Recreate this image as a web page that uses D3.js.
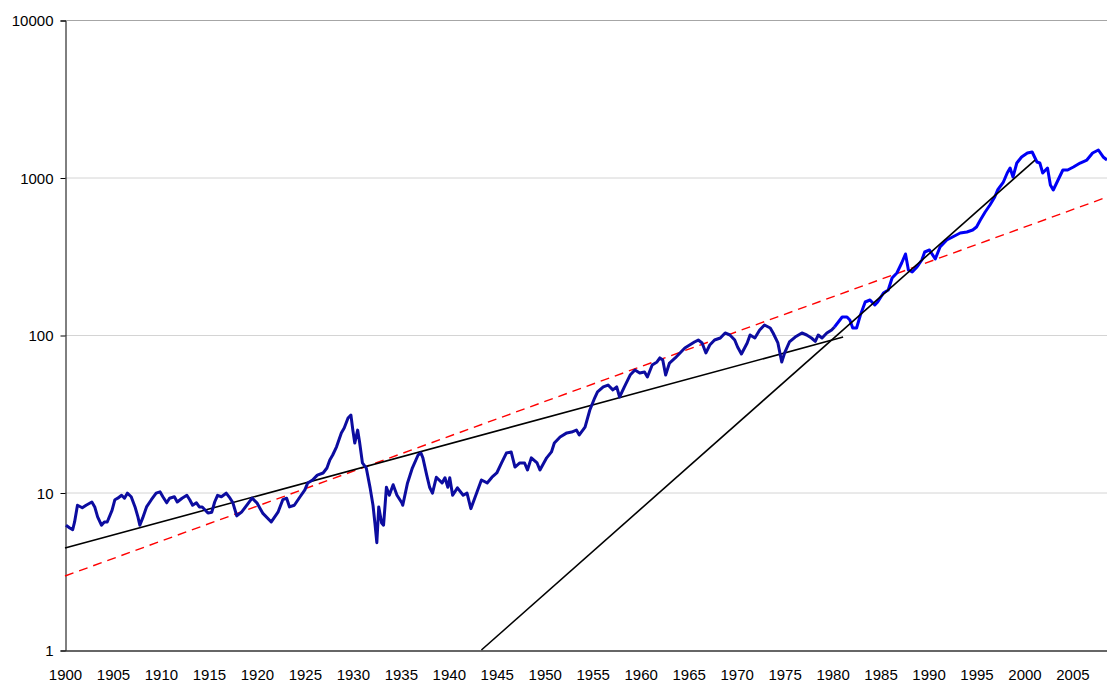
<!DOCTYPE html>
<html>
<head>
<meta charset="utf-8">
<script src="https://cdnjs.cloudflare.com/ajax/libs/d3/7.8.5/d3.min.js"></script>
<style>
    body { margin: 0; background: #fff; }
    svg text { font-family: "Liberation Sans", Arial, sans-serif; font-size: 15px; fill: #000; }
</style>
</head>
<body>
<div id="chart"></div>
<script>
//Index level (log scale), year as decimal
var years = [
    1900.1, 1900.5, 1900.8, 1901.0, 1901.3, 1901.8, 1902.2, 1902.8, 1903.1, 1903.4,
    1903.8, 1904.1, 1904.4, 1904.9, 1905.2, 1905.5, 1905.9, 1906.2, 1906.5, 1906.9,
    1907.3, 1907.6, 1907.8, 1908.1, 1908.5, 1909.0, 1909.5, 1909.9, 1910.2, 1910.6,
    1910.9, 1911.4, 1911.7, 1912.2, 1912.7, 1913.0, 1913.3, 1913.7, 1914.0, 1914.3,
    1914.9, 1915.3, 1915.6, 1915.9, 1916.3, 1916.8, 1917.2, 1917.5, 1917.9, 1918.4,
    1919.5, 1920.0, 1920.6, 1921.5, 1922.2, 1922.7, 1923.1, 1923.4, 1923.9, 1924.5,
    1925.0, 1925.3, 1925.8, 1926.3, 1926.9, 1927.3, 1927.6, 1927.9, 1928.3, 1928.8,
    1929.1, 1929.5, 1929.8, 1930.0, 1930.2, 1930.5, 1930.7, 1931.0, 1931.4, 1931.8,
    1932.1, 1932.3, 1932.5, 1932.7, 1933.0, 1933.2, 1933.5, 1933.8, 1934.2, 1934.6,
    1935.1, 1935.2, 1935.7, 1936.2, 1936.8, 1937.1, 1937.3, 1937.7, 1938.0, 1938.3,
    1938.7, 1939.3, 1939.6, 1939.9, 1940.1, 1940.4, 1940.9, 1941.5, 1941.9, 1942.3,
    1942.7, 1943.4, 1944.0, 1944.5, 1945.0, 1945.5, 1946.0, 1946.5, 1946.9, 1947.4,
    1947.9, 1948.2, 1948.6, 1949.2, 1949.5, 1950.2, 1950.7, 1951.0, 1951.6, 1952.3,
    1952.8, 1953.3, 1953.6, 1954.2, 1954.7, 1955.2, 1955.5, 1956.1, 1956.6, 1957.1,
    1957.5, 1957.8, 1958.3, 1958.9, 1959.4, 1959.9, 1960.4, 1960.7, 1961.2, 1961.7,
    1962.0, 1962.3, 1962.6, 1963.0, 1963.6, 1964.1, 1964.6, 1965.1, 1965.6, 1966.0,
    1966.4, 1966.8, 1967.2, 1967.7, 1968.3, 1968.8, 1969.3, 1969.8, 1970.1, 1970.5,
    1971.1, 1971.4, 1971.9, 1972.4, 1972.9, 1973.5, 1973.8, 1974.3, 1974.7, 1975.0,
    1975.5, 1976.1, 1976.8, 1977.3, 1977.8, 1978.2, 1978.5, 1978.9, 1979.4, 1979.9,
    1980.2, 1980.6, 1981.0, 1981.5, 1981.8, 1982.1, 1982.5, 1982.9, 1983.4, 1983.9,
    1984.4, 1984.7, 1985.3, 1985.8, 1986.2, 1986.7, 1987.2, 1987.6, 1987.9, 1988.3,
    1988.8, 1989.3, 1989.6, 1990.1, 1990.7, 1991.2, 1991.9, 1992.5, 1993.3, 1994.0,
    1994.6, 1995.0, 1995.4, 1995.9, 1996.4, 1996.9, 1997.2, 1997.8, 1998.2, 1998.5,
    1998.8, 1999.2, 1999.7, 2000.3, 2000.8, 2001.3, 2001.6, 2001.9, 2002.4, 2002.7,
    2003.0, 2003.5, 2004.0, 2004.5, 2005.1, 2005.8, 2006.5, 2007.1, 2007.7, 2008.2,
    2008.6
];
var index = [
    6.2, 5.95, 5.8, 6.5, 8.3, 8.0, 8.3, 8.7, 8.1, 7.0,
    6.2, 6.5, 6.5, 7.7, 9.0, 9.2, 9.6, 9.2, 9.9, 9.4,
    8.1, 7.0, 6.2, 6.9, 8.1, 9.0, 9.9, 10.1, 9.4, 8.6,
    9.2, 9.4, 8.7, 9.2, 9.6, 9.0, 8.3, 8.6, 8.1, 8.1,
    7.4, 7.5, 8.7, 9.6, 9.4, 9.9, 9.2, 8.6, 7.1, 7.5,
    9.2, 8.6, 7.4, 6.5, 7.5, 9.0, 9.2, 8.1, 8.3, 9.4,
    10.4, 11.5, 12.0, 12.9, 13.3, 14.3, 16.1, 17.3, 19.5, 23.9,
    25.7, 29.7, 31.0, 24.9, 20.6, 24.9, 20.9, 15.4, 14.3, 10.7,
    8.3, 6.4, 4.8, 8.1, 6.4, 6.2, 10.8, 9.6, 11.2, 9.6,
    8.6, 8.3, 11.5, 14.3, 17.3, 17.8, 16.6, 12.9, 10.8, 9.9,
    12.5, 11.5, 12.4, 10.8, 12.4, 9.6, 10.7, 9.6, 9.9, 7.9,
    9.2, 12.0, 11.5, 12.5, 13.3, 15.4, 17.8, 18.1, 14.5, 15.4,
    15.4, 13.9, 16.6, 15.4, 13.9, 16.6, 18.1, 20.6, 22.5, 23.9,
    24.2, 24.9, 23.2, 26.0, 33.4, 39.8, 43.5, 46.8, 48.1, 44.8,
    46.8, 40.4, 46.8, 55.7, 60.0, 57.4, 58.2, 54.1, 64.5, 67.4,
    71.5, 69.4, 55.7, 66.4, 71.5, 76.9, 82.7, 86.4, 90.3, 92.9,
    89.0, 76.9, 86.4, 92.9, 95.7, 103, 100, 92.9, 83.9, 75.8,
    89.0, 100, 95.7, 107.6, 115.7, 110.8, 103, 89.0, 67.4, 76.9,
    90.3, 97.1, 103, 100, 95.7, 91.2, 100, 95.7, 103, 107.6,
    112.4, 120.9, 130.1, 130.1, 124.5, 110.8, 110.8, 134, 162, 166.8,
    155, 162, 184.8, 193.1, 230.1, 247.6, 286.5, 326.8, 258.7, 251.2,
    270.2, 299.4, 336.5, 346.5, 303.8, 362, 401, 419, 444, 451,
    464, 485, 537, 604, 669, 752, 833, 936, 1068, 1149,
    1007, 1236, 1350, 1431, 1452, 1254, 1236, 1068, 1149, 896,
    833, 964, 1116, 1116, 1166, 1236, 1291, 1431, 1495, 1350,
    1291
];
var colourSplitYear = 1980.2; //series drawn darker before, brighter after

//Trend lines: [year, level] end points
var trendPre = [[1900, 4.44], [1981.1, 97]];
var trendPost = [[1943.4, 1], [2001.1, 1291]];
var trendAll = [[1900, 2.95], [2008.6, 751]];

var yTicks = [1, 10, 100, 1000, 10000];
var xTickLabels = [1900, 1905, 1910, 1915, 1920, 1925, 1930, 1935, 1940, 1945, 1950,
    1955, 1960, 1965, 1970, 1975, 1980, 1985, 1990, 1995, 2000, 2005];

var width = 1107,
    height = 682,
    margin = {top: 20, right: 0, bottom: 32, left: 65};

var svg = d3.select("#chart").append("svg")
    .attr("width", width)
    .attr("height", height);

var x = d3.scaleLinear()
    .domain([1900, 2008.6])
    .range([margin.left, width - margin.right]);

var y = d3.scaleLog()
    .domain([1, 10000])
    .range([height - margin.bottom, margin.top]);

//Gridlines
svg.append("g").selectAll("line")
    .data(yTicks.slice(1))
    .enter().append("line")
    .attr("x1", margin.left)
    .attr("x2", width - margin.right)
    .attr("y1", function (d) { return y(d) + 0.5; })
    .attr("y2", function (d) { return y(d) + 0.5; })
    .attr("stroke", function (d) { return d === 10000 ? "#a6a6a6" : "#d4d4d4"; })
    .attr("stroke-width", 1);

//Y axis
var yAxis = d3.axisLeft(y)
    .tickValues(yTicks)
    .tickFormat(d3.format("d"))
    .tickSize(5)
    .tickPadding(7);
var yAxisG = svg.append("g")
    .attr("transform", "translate(" + (margin.left + 0.5) + ",0.5)")
    .call(yAxis);
yAxisG.select(".domain").attr("stroke", "#000");
yAxisG.selectAll(".tick line").attr("stroke", "#000");
yAxisG.selectAll("text").attr("font-size", null).attr("font-family", null).attr("dy", "0.36em");

//X axis (labels only)
var xAxis = d3.axisBottom(x)
    .tickValues(xTickLabels)
    .tickFormat(d3.format("d"))
    .tickSize(0)
    .tickPadding(19);
var xAxisG = svg.append("g")
    .attr("transform", "translate(0," + (height - margin.bottom + 0.5) + ")")
    .call(xAxis);
xAxisG.select(".domain").attr("stroke", "#333").attr("stroke-width", 1.5);
xAxisG.selectAll("text").attr("font-size", null).attr("font-family", null);

var plot = svg.append("g");

var line = d3.line()
    .x(function (d) { return x(d[0]); })
    .y(function (d) { return y(d[1]); });

//Trend lines
plot.append("path")
    .datum(trendAll)
    .attr("d", line)
    .attr("fill", "none")
    .attr("stroke", "#ff0000")
    .attr("stroke-width", 1.4)
    .attr("stroke-dasharray", "9,6");

plot.append("path")
    .datum(trendPre)
    .attr("d", line)
    .attr("fill", "none")
    .attr("stroke", "#000")
    .attr("stroke-width", 1.6);

//Index series
var points = years.map(function (yr, i) { return [yr, index[i]]; });
var early = points.filter(function (d) { return d[0] <= colourSplitYear; });
var late = points.filter(function (d) { return d[0] >= colourSplitYear; });

plot.append("path")
    .datum(early)
    .attr("d", line)
    .attr("fill", "none")
    .attr("stroke", "#0c0ca0")
    .attr("stroke-width", 3)
    .attr("stroke-linejoin", "round");

plot.append("path")
    .datum(late)
    .attr("d", line)
    .attr("fill", "none")
    .attr("stroke", "#0000f5")
    .attr("stroke-width", 3)
    .attr("stroke-linejoin", "round");

plot.append("path")
    .datum(trendPost)
    .attr("d", line)
    .attr("fill", "none")
    .attr("stroke", "#000")
    .attr("stroke-width", 1.6);
</script>
</body>
</html>
